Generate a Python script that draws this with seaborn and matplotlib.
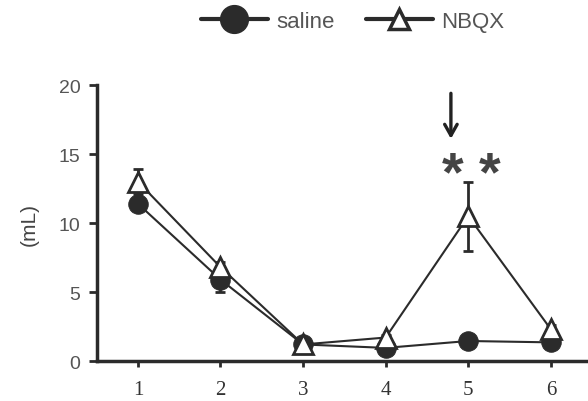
import matplotlib
matplotlib.use("Agg")
import matplotlib.pyplot as plt
import seaborn as sns
import pandas as pd
from matplotlib.lines import Line2D

days = [1, 2, 3, 4, 5, 6]
saline = [11.4, 5.9, 1.2, 0.95, 1.45, 1.35]
saline_err = [0.3, 0.9, 0.2, 0.2, 0.2, 0.2]
nbqx = [13.0, 6.8, 1.2, 1.7, 10.5, 2.3]
nbqx_err = [0.9, 0.4, 0.2, 0.2, 2.5, 0.3]
x_ticks = [1, 2, 3, 4, 5, 6]
y_ticks = [0, 5, 10, 15, 20]

sns.set_style("ticks")
plt.rcParams['font.family'] = ['Liberation Sans', 'DejaVu Sans']

fig = plt.figure(figsize=(5.88, 4.02), dpi=100)
ax = fig.add_axes([0.165, 0.0995, 0.835, 0.6865])

df = pd.DataFrame({
    "day": days * 2,
    "value": saline + nbqx,
    "group": ["saline"] * 6 + ["NBQX"] * 6,
})

col = "#2b2b2b"
ax.errorbar(days, nbqx, yerr=nbqx_err, fmt="none", ecolor=col, elinewidth=2, capsize=3.5, capthick=2, zorder=2)
ax.errorbar(days, saline, yerr=saline_err, fmt="none", ecolor=col, elinewidth=2, capsize=3.5, capthick=2, zorder=2)

sns.lineplot(data=df, x="day", y="value", hue="group", style="group",
             markers={"saline": "o", "NBQX": "^"}, dashes=False,
             palette={"saline": col, "NBQX": col}, linewidth=1.5,
             markersize=14, ax=ax, legend=False, zorder=3)
for ln in ax.get_lines():
    if ln.get_marker() == "^":
        ln.set_markerfacecolor("white")
        ln.set_markeredgecolor(col)
        ln.set_markeredgewidth(2)
        ln.set_markersize(15)
        ln.set_zorder(4)
    elif ln.get_marker() == "o":
        ln.set_markerfacecolor(col)
        ln.set_markeredgecolor(col)
        ln.set_zorder(3)

ax.set_xlim(0.505, 6.45)
ax.set_ylim(0, 20)
ax.set_xticks(x_ticks)
ax.set_xticklabels([str(t) for t in x_ticks], fontfamily="Liberation Serif", fontsize=15, color="#333333")
ax.set_yticks(y_ticks)
ax.set_yticklabels([str(t) for t in y_ticks], fontsize=14, color="#555555")
ax.set_xlabel("")
ax.set_ylabel("(mL)", fontsize=15, color="#444444", labelpad=14)
for s in ["left", "bottom"]:
    ax.spines[s].set_linewidth(2.5)
    ax.spines[s].set_color(col)
ax.spines["top"].set_visible(False)
ax.spines["right"].set_visible(False)
ax.tick_params(axis="y", width=2, length=6, color=col, pad=6)
ax.tick_params(axis="x", width=2, length=4, color=col, pad=10)

# annotations
ax.annotate("", xy=(4.79, 16.1), xytext=(4.79, 19.4),
            arrowprops=dict(arrowstyle="->,head_width=0.45,head_length=0.8", color="#222222",
                            lw=2.4, shrinkA=0, shrinkB=0),
            annotation_clip=False)
ax.text(5.04, 13.4, "* *", ha="center", va="center", fontsize=40, fontweight="bold", color="#444444")

# legend
handles = [
    Line2D([0], [0], color=col, lw=3, marker="o", markersize=20, markerfacecolor=col, markeredgecolor=col),
    Line2D([0], [0], color=col, lw=3, marker="^", markersize=14, markerfacecolor="white", markeredgecolor=col, markeredgewidth=2.5),
]
fig.legend(handles, ["saline", "NBQX"], loc="center", bbox_to_anchor=(0.6, 0.945),
           ncol=2, frameon=False, fontsize=16, handlelength=3.0, columnspacing=1.4,
           handletextpad=0.4, labelcolor="#555555")

fig.savefig("out.png", dpi=100)
